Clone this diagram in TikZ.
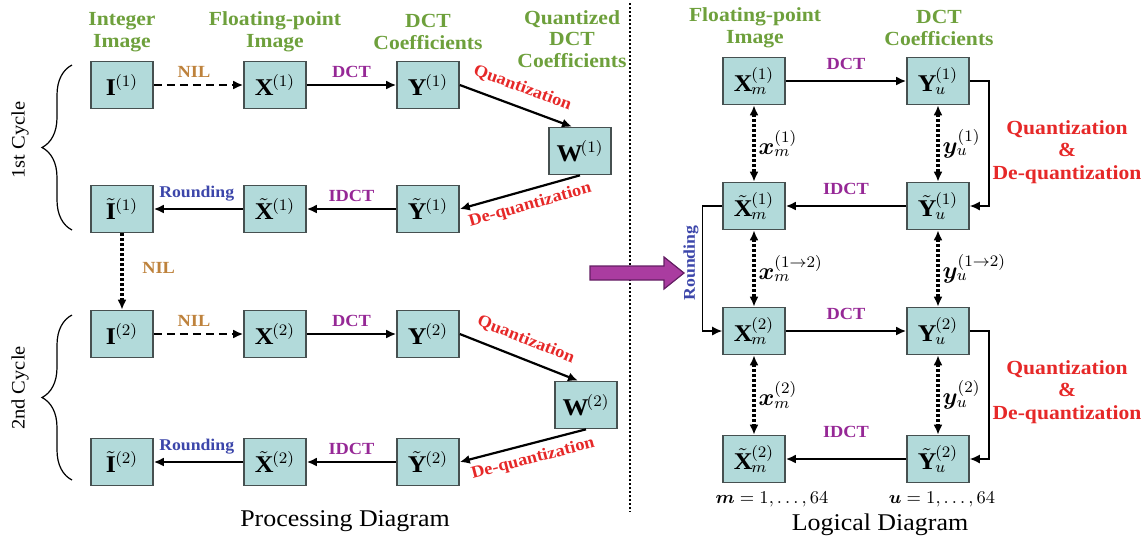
\documentclass[tikz,border=0pt]{standalone}
\usepackage{amsmath,bm}
\usepackage{fontspec}
\setmainfont{Liberation Serif}[FakeStretch=1.08]
\usetikzlibrary{arrows.meta,decorations.pathreplacing,calc}
\definecolor{boxfill}{RGB}{178,218,218}
\definecolor{boxdraw}{RGB}{70,80,80}
\definecolor{hdr}{RGB}{110,160,60}
\definecolor{nilc}{RGB}{190,130,60}
\definecolor{dctc}{RGB}{150,40,150}
\definecolor{rndc}{RGB}{60,70,170}
\definecolor{qc}{RGB}{230,40,40}
\definecolor{parrow}{RGB}{170,60,160}
\definecolor{parrowd}{RGB}{100,30,100}
\begin{document}
\begin{tikzpicture}[x=0.5pt,y=-0.5pt,
  blk/.style={draw=boxdraw, fill=boxfill, line width=0.8pt, minimum width=31pt, minimum height=23.5pt, inner sep=0pt, font=\fontsize{12}{13}\selectfont},
  hdrtxt/.style={text=hdr, font=\fontsize{10}{10.8}\selectfont\bfseries, align=center},
  elab/.style={font=\fontsize{8.5}{10}\selectfont\bfseries},
  niltxt/.style={elab, text=nilc},
  dcttxt/.style={elab, text=dctc},
  rndtxt/.style={font=\fontsize{8.2}{10}\selectfont\bfseries, text=rndc},
  qtxt/.style={elab, text=qc},
  qdtxt/.style={text=qc, font=\fontsize{10}{11.2}\selectfont\bfseries, align=center},
  arr/.style={-{Latex[length=5pt,width=4.5pt]}, line width=1.1pt},
  thinarr/.style={-{Latex[length=5pt,width=4.5pt]}, line width=0.7pt},
  dasharr/.style={-{Latex[length=5pt,width=4.5pt]}, line width=1.3pt, dash pattern=on 4pt off 2.5pt},
  dotarr/.style={-{Latex[length=5pt,width=4.5pt]}, line width=1.6pt, dash pattern=on 1.4pt off 1.1pt},
  dotdbl/.style={{Latex[length=5pt,width=4.5pt]}-{Latex[length=5pt,width=4.5pt]}, line width=1.6pt, dash pattern=on 1.4pt off 1.1pt},
  vlab/.style={font=\fontsize{11.5}{12}\selectfont, inner sep=1.5pt},
  captxt/.style={font=\fontsize{12}{13}\selectfont},
  cyctxt/.style={font=\fontsize{9.5}{11}\selectfont, rotate=90},
  brc/.style={decorate, decoration={brace, amplitude=15pt}, line width=0.6pt}
]
\useasboundingbox (0,0) rectangle (1145,538);

% ---------- headers (left) ----------
\node[hdrtxt] (h1) at (122,32) {Integer\\Image};
\node[hdrtxt] (h2) at (275,32) {Floating-point\\Image};
\node[hdrtxt] (h3) at (428,32) {DCT\\Coefficients};
\node[hdrtxt] (h4) at (572,39) {Quantized\\DCT\\Coefficients};

% ---------- boxes (left) ----------
\node[blk] (I1)  at (122,85)  {$\mathbf{I}^{(1)}$};
\node[blk] (X1)  at (275,85)  {$\mathbf{X}^{(1)}$};
\node[blk] (Y1)  at (428,85)  {$\mathbf{Y}^{(1)}$};
\node[blk] (W1)  at (580,151) {$\mathbf{W}^{(1)}$};
\node[blk] (It1) at (122,209) {$\tilde{\mathbf{I}}^{(1)}$};
\node[blk] (Xt1) at (275,209) {$\tilde{\mathbf{X}}^{(1)}$};
\node[blk] (Yt1) at (428,209) {$\tilde{\mathbf{Y}}^{(1)}$};

\node[blk] (I2)  at (122,334) {$\mathbf{I}^{(2)}$};
\node[blk] (X2)  at (275,334) {$\mathbf{X}^{(2)}$};
\node[blk] (Y2)  at (428,334) {$\mathbf{Y}^{(2)}$};
\node[blk] (W2)  at (586,405) {$\mathbf{W}^{(2)}$};
\node[blk] (It2) at (122,462) {$\tilde{\mathbf{I}}^{(2)}$};
\node[blk] (Xt2) at (275,462) {$\tilde{\mathbf{X}}^{(2)}$};
\node[blk] (Yt2) at (428,462) {$\tilde{\mathbf{Y}}^{(2)}$};

% ---------- connectors (left) ----------
\draw[dasharr] (I1) -- node[niltxt, above, pos=0.45] {NIL} (X1);
\draw[arr] (X1) -- node[dcttxt, above] {DCT} (Y1);
\draw[arr] (Y1.east) -- node[qtxt, sloped, above, yshift=2pt] {Quantization} ([xshift=-4pt]W1.north);
\draw[arr] (W1.south) -- node[qtxt, sloped, below, pos=0.45] {De-quantization} (Yt1.east);
\draw[arr] (Yt1) -- node[dcttxt, above] {IDCT} (Xt1);
\draw[arr] (Xt1) -- node[rndtxt, above, pos=0.52] {Rounding} (It1);
\draw[dotarr] (It1) -- node[niltxt, right, xshift=6pt, pos=0.45] {NIL} (I2);

\draw[dasharr] (I2) -- node[niltxt, above, pos=0.45] {NIL} (X2);
\draw[arr] (X2) -- node[dcttxt, above] {DCT} (Y2);
\draw[arr] (Y2.east) -- node[qtxt, sloped, above, yshift=2pt] {Quantization} ([xshift=-4pt]W2.north);
\draw[arr] (W2.south) -- node[qtxt, sloped, below, pos=0.45] {De-quantization} (Yt2.east);
\draw[arr] (Yt2) -- node[dcttxt, above] {IDCT} (Xt2);
\draw[arr] (Xt2) -- node[rndtxt, above, pos=0.52] {Rounding} (It2);

% ---------- braces ----------
\draw[brc] (72,230) -- (72,65);
\node[cyctxt] (c1) at (20,140) {1st Cycle};
\draw[brc] (72,480) -- (72,315);
\node[cyctxt] (c2) at (20,388) {2nd Cycle};

\node[captxt] (pd) at (345,521) {Processing Diagram};

% ---------- separator and block arrow ----------
\draw[line width=0.9pt, dash pattern=on 1pt off 1pt] (630,3) -- (630,512);
\draw[fill=parrow, draw=parrowd, line width=0.6pt]
  (590,266) -- (664,266) -- (664,257) -- (684,273) -- (664,289) -- (664,280) -- (590,280) -- cycle;

% ---------- headers (right) ----------
\node[hdrtxt] (h5) at (755,28) {Floating-point\\Image};
\node[hdrtxt] (h6) at (939,28) {DCT\\Coefficients};

% ---------- boxes (right) ----------
\node[blk] (Xm1)  at (754,81)  {$\mathbf{X}_m^{(1)}$};
\node[blk] (Yu1)  at (938,81)  {$\mathbf{Y}_u^{(1)}$};
\node[blk] (Xtm1) at (754,206) {$\tilde{\mathbf{X}}_m^{(1)}$};
\node[blk] (Ytu1) at (938,206) {$\tilde{\mathbf{Y}}_u^{(1)}$};
\node[blk] (Xm2)  at (754,331) {$\mathbf{X}_m^{(2)}$};
\node[blk] (Yu2)  at (938,331) {$\mathbf{Y}_u^{(2)}$};
\node[blk] (Xtm2) at (754,459) {$\tilde{\mathbf{X}}_m^{(2)}$};
\node[blk] (Ytu2) at (938,459) {$\tilde{\mathbf{Y}}_u^{(2)}$};

% ---------- connectors (right) ----------
\draw[arr] (Xm1) -- node[dcttxt, above, yshift=2pt] {DCT} (Yu1);
\draw[arr] (Ytu1) -- node[dcttxt, above, yshift=2pt] {IDCT} (Xtm1);
\draw[arr] (Xm2) -- node[dcttxt, above, yshift=2pt] {DCT} (Yu2);
\draw[arr] (Ytu2) -- node[dcttxt, above, yshift=7pt] {IDCT} (Xtm2);

\draw[dotdbl] (Xm1) -- node[vlab, right] {$\bm{x}_m^{(1)}$} (Xtm1);
\draw[dotdbl] (Yu1) -- node[vlab, right] {$\bm{y}_u^{(1)}$} (Ytu1);
\draw[dotdbl] (Xtm1) -- node[vlab, right] {$\bm{x}_m^{(1\to2)}$} (Xm2);
\draw[dotdbl] (Ytu1) -- node[vlab, right] {$\bm{y}_u^{(1\to2)}$} (Yu2);
\draw[dotdbl] (Xm2) -- node[vlab, right] {$\bm{x}_m^{(2)}$} (Xtm2);
\draw[dotdbl] (Yu2) -- node[vlab, right] {$\bm{y}_u^{(2)}$} (Ytu2);

\draw[thinarr] (Yu1.east) -- ++(19,0) |- (Ytu1.east);
\draw[thinarr] (Yu2.east) -- ++(19,0) |- (Ytu2.east);
\node[qdtxt] (qd1) at (1067,152) {Quantization\\\&\\De-quantization};
\node[qdtxt] (qd2) at (1067,392) {Quantization\\\&\\De-quantization};

\draw[thinarr] (Xtm1.west) -- ++(-20,0) |- (Xm2.west);
\node[rndtxt, rotate=90] (rnd) at (691,263) {Rounding};

\node[font=\fontsize{9}{10}\selectfont] (mr) at (772,499) {$\bm{m}=1,\ldots,64$};
\node[font=\fontsize{9}{10}\selectfont] (ur) at (942,499) {$\bm{u}=1,\ldots,64$};
\node[captxt] (ld) at (880,525) {Logical Diagram};
\end{tikzpicture}
\end{document}
